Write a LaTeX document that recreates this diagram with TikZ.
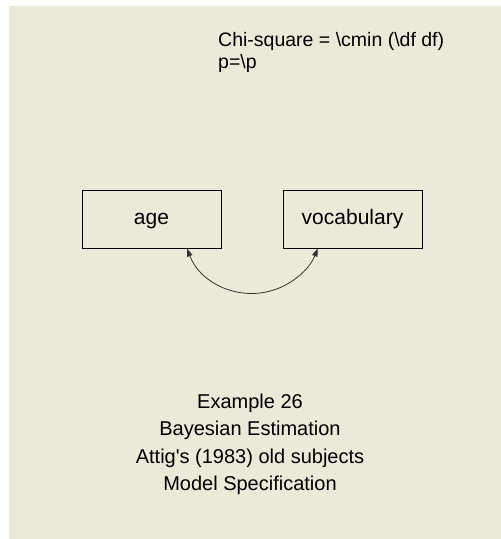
\documentclass[tikz,border=0pt]{standalone}
\usepackage{fontspec}
\setmainfont{Liberation Sans}
\usetikzlibrary{arrows.meta}
\definecolor{amosbg}{RGB}{236,233,216}
\definecolor{linegray}{RGB}{50,50,50}
\begin{document}
\begin{tikzpicture}[x=1pt,y=-1pt,
  varbox/.style={draw=black, line width=0.9pt, minimum width=139pt, minimum height=58pt,
    inner sep=0pt, text height=15pt, text depth=4.4pt, font=\fontsize{21}{25}\selectfont},
  titleline/.style={anchor=base, inner sep=0pt, font=\fontsize{20}{24}\selectfont},
  noteline/.style={anchor=base west, inner sep=0pt, font=\fontsize{19.5}{22}\selectfont},
  covarrow/.style={{Triangle[length=8pt,width=5.5pt]}-{Triangle[length=8pt,width=5.5pt]}, draw=linegray, line width=0.8pt}]
\useasboundingbox (0,0) rectangle (501,539);
\fill[white] (0,0) rectangle (501,539);
\fill[amosbg] (9,6) rectangle (501,539);
% note
\node[noteline] (chi) at (218,46) {Chi-square = \textbackslash cmin (\textbackslash df df)};
\node[noteline] (pval) at (218,68) {p=\textbackslash p};
% boxes
\node[varbox] (age) at (151.5,219) {age};
\node[varbox] (voc) at (352.5,219) {vocabulary};
% covariance
\coordinate (t1) at ([xshift=-34.5pt]age.south east);
\draw[covarrow] (t1) arc[start angle=159, end angle=21, radius=70];
% title
\node[titleline] (l1) at (250,408) {Example 26};
\node[titleline] (l2) at (250,435.5) {Bayesian Estimation};
\node[titleline] (l3) at (250,463) {Attig\textquotesingle s (1983) old subjects};
\node[titleline] (l4) at (250,490.5) {Model Specification};
\end{tikzpicture}
\end{document}
